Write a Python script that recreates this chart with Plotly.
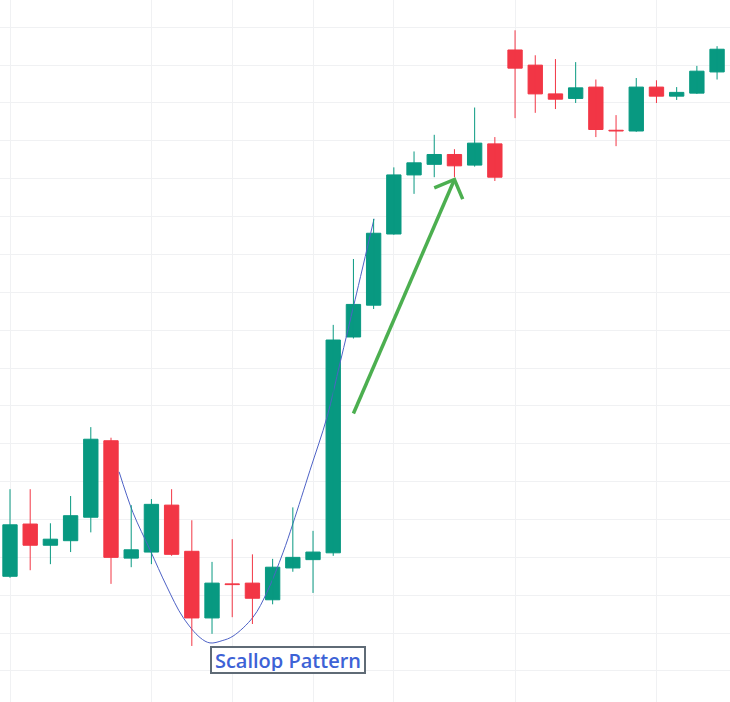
import plotly.graph_objects as go

# candle index 0..35, prices
opens = [112.5, 119.4, 116.6, 117.2, 120.3, 130.4, 114.9, 115.7, 121.9, 115.8,
         107.0, 111.5, 111.6, 109.4, 113.6, 114.7, 115.6, 144.1, 148.3, 157.7,
         165.5, 166.9, 168.2, 166.8, 169.6, 182.0, 180.0, 176.2, 175.6, 177.1,
         171.4, 171.3, 177.1, 175.9, 176.3, 179.1]
highs = [124.0, 124.0, 119.5, 123.1, 132.2, 130.8, 121.9, 122.7, 124.0, 119.9,
         114.4, 117.4, 115.4, 114.8, 121.6, 118.5, 145.7, 154.4, 159.7, 166.5,
         168.6, 170.8, 168.9, 174.4, 170.5, 184.6, 181.3, 180.8, 180.4, 178.1,
         173.4, 178.3, 178.0, 177.1, 179.9, 182.5]
lows = [112.3, 113.3, 114.1, 115.7, 118.3, 111.5, 113.7, 114.1, 115.2, 103.3,
        104.9, 107.1, 106.2, 108.8, 113.1, 110.3, 115.2, 143.9, 147.8, 157.6,
        163.0, 165.2, 165.2, 166.6, 164.7, 173.0, 173.7, 174.2, 175.0, 170.5,
        169.3, 171.2, 175.0, 175.4, 176.2, 178.1]
closes = [119.3, 116.6, 117.4, 120.5, 130.6, 115.0, 116.0, 122.0, 115.4, 107.0,
          111.6, 111.4, 109.6, 113.7, 115.0, 115.7, 143.7, 148.4, 157.8, 165.5,
          167.1, 168.2, 166.7, 169.7, 165.2, 179.6, 176.2, 175.5, 177.0, 171.5,
          171.3, 177.1, 175.9, 176.4, 179.2, 182.1]
candle_idx = list(range(len(opens)))

# vertical grid positions (candle index)
x_grid = [0, 7, 11, 15, 19, 25, 32]

# scallop curve drawn over the chart
scallop_x = [5.40, 6.09, 6.93, 7.77, 8.56, 9.41, 9.90, 10.5, 11.04, 12.03,
             12.72, 13.51, 14.01, 14.85, 15.69, 16.34, 17.08, 18.02]
scallop_y = [126.3, 120.9, 116.0, 111.1, 107.1, 104.4, 103.7, 104.0, 104.6, 107.1,
             110.4, 115.6, 119.5, 126.5, 133.5, 140.7, 149.0, 159.7]

# green arrow: shaft then open head
arrow_x = [17.0, 22.0, None, 21.0, 22.0, 22.41]
arrow_y = [134.0, 164.9, None, 163.8, 164.9, 162.3]

label_x, label_y = 13.78, 101.4

UP = "#089981"
DOWN = "#f23645"

up_flag = [c >= o for o, c in zip(opens, closes)]
colors = [UP if u else DOWN for u in up_flag]

fig = go.Figure()

fig.add_trace(go.Scatter(
    x=scallop_x, y=scallop_y, mode="lines",
    line=dict(color="#4e62c6", width=1, shape="spline", smoothing=1.0),
    hoverinfo="skip", showlegend=False,
))

# wicks, one trace per colour
for want, col in [(True, UP), (False, DOWN)]:
    wx, wy = [], []
    for i, u in enumerate(up_flag):
        if u == want:
            wx += [candle_idx[i], candle_idx[i], None]
            wy += [lows[i], highs[i], None]
    fig.add_trace(go.Scatter(
        x=wx, y=wy, mode="lines", line=dict(color=col, width=1),
        hoverinfo="skip", showlegend=False,
    ))

# bodies
fig.add_trace(go.Bar(
    x=candle_idx,
    base=[min(o, c) for o, c in zip(opens, closes)],
    y=[abs(c - o) for o, c in zip(opens, closes)],
    width=0.71,
    marker=dict(color=colors, line=dict(color=colors, width=1)),
    hoverinfo="skip", showlegend=False,
))

fig.add_trace(go.Scatter(
    x=arrow_x, y=arrow_y, mode="lines",
    line=dict(color="#4caf50", width=3.5),
    hoverinfo="skip", showlegend=False,
))

fig.add_annotation(
    x=label_x, y=label_y, text="Scallop Pattern", showarrow=False,
    font=dict(family="Open Sans", size=20, color="#3d62d6", weight=600),
    bgcolor="white", bordercolor="#5f6b76", borderwidth=2, borderpad=1,
    width=150, height=22,
)

fig.update_layout(
    width=730, height=702,
    margin=dict(l=0, r=0, t=0, b=0),
    plot_bgcolor="white", paper_bgcolor="white",
    barmode="overlay",
    showlegend=False,
    hovermode=False,
)
fig.update_xaxes(
    range=[-0.495, 35.64],
    tickmode="array", tickvals=x_grid, showticklabels=False,
    showgrid=True, gridcolor="#f0f1f3", gridwidth=1, zeroline=False,
    showline=False,
)
fig.update_yaxes(
    range=[95.9, 188.6], tick0=100, dtick=5, showticklabels=False,
    showgrid=True, gridcolor="#f0f1f3", gridwidth=1, zeroline=False,
    showline=False,
)

fig.write_html("out.html", config={"displayModeBar": False},
               post_script="document.body.style.margin='0';document.body.style.overflow='hidden';")
